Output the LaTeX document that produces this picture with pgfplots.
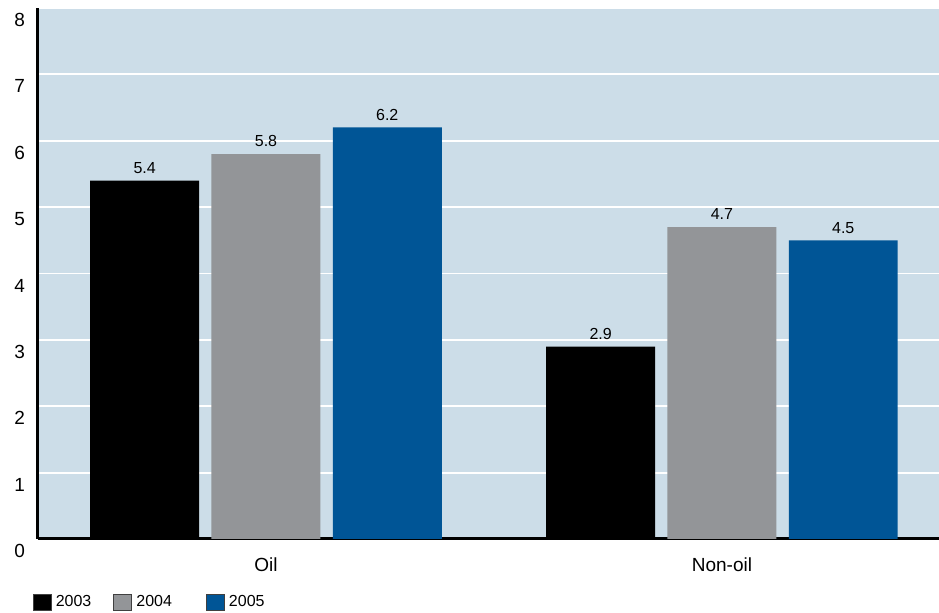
\documentclass[border=0pt]{standalone}
\usepackage{pgfplots}
\pgfplotsset{compat=1.18}
\usepackage{fontspec}
\setmainfont{Liberation Sans}
\definecolor{bgblue}{HTML}{CCDDE8}
\definecolor{bargrey}{HTML}{939598}
\definecolor{barblue}{HTML}{005596}
\begin{document}
\begin{tikzpicture}
\useasboundingbox (-19pt,-37pt) rectangle (450.5pt,269.5pt);
\begin{axis}[
  at={(0,0)}, anchor=south west,
  scale only axis,
  width=450.5pt, height=265.5pt,
  xmin=-0.5, xmax=1.476,
  ymin=0, ymax=8,
  enlargelimits=false,
  ybar, bar width=0.239,
  axis background/.style={fill=bgblue},
  axis x line=bottom, axis y line=left,
  axis line style={line width=1.5pt, -},
  major tick length=0pt,
  xtick={0,1}, xticklabels={Oil,Non-oil},
  ytick={0,1,...,8},
  ymajorgrids, grid style={white, line width=0.9pt},
  /pgf/number format/assume math mode=true,
  tick label style={font=\fontsize{9.5}{11}\selectfont},
  yticklabel style={anchor=east, xshift=-3pt, yshift=-6pt},
  xticklabel style={yshift=-6pt},
  nodes near coords,
  nodes near coords style={font=\fontsize{8}{9}\selectfont, /pgf/number format/.cd, fixed, precision=1, fixed zerofill, assume math mode=true},
  legend columns=3,
  legend style={at={(axis description cs:-0.004,0)}, anchor=north west, xshift=-4pt, yshift=-24pt, draw=none, fill=none,
    font=\fontsize{8}{9}\selectfont,
    /tikz/column 2/.style={column sep=9pt},
    /tikz/column 4/.style={column sep=15pt},
    nodes={inner sep=2pt}},
  legend image code/.code={\draw[#1, draw=black!75, line width=0.5pt] (0pt,-4pt) rectangle (9pt,4pt);},
]
\addplot[fill=black, draw=none, bar shift=-0.266] coordinates {(0,5.4) (1,2.9)};
\addplot[fill=bargrey, draw=none, bar shift=0] coordinates {(0,5.8) (1,4.7)};
\addplot[fill=barblue, draw=none, bar shift=0.266] coordinates {(0,6.2) (1,4.5)};
\legend{2003,2004,2005}
\end{axis}
\end{tikzpicture}
\end{document}
